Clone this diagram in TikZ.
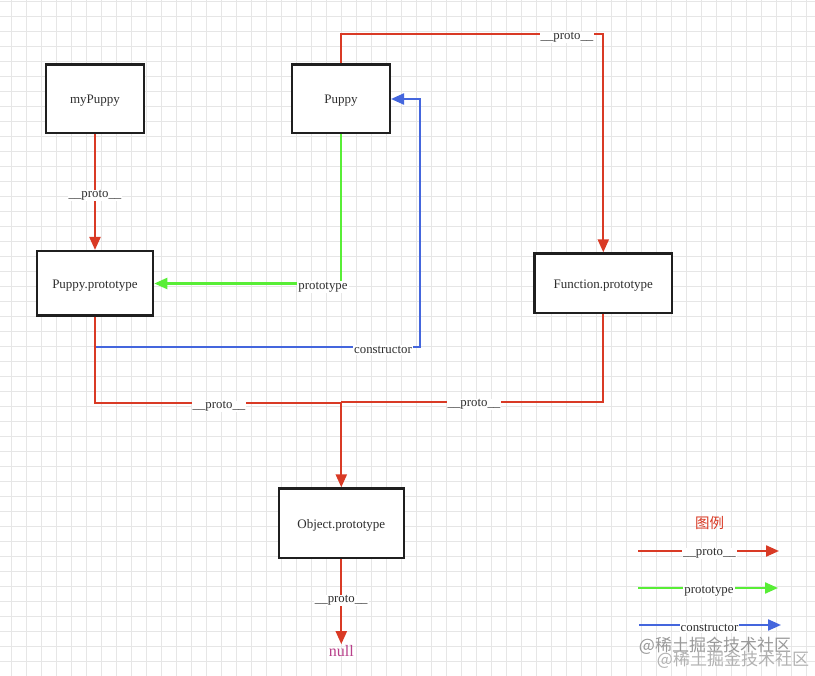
\documentclass[tikz,border=0pt]{standalone}
\usepackage{fontspec}
\setmainfont{Liberation Serif}
\newfontfamily\cjkfont{Noto Sans CJK SC}
\usetikzlibrary{arrows.meta}
\definecolor{cred}{HTML}{D93A25}
\definecolor{cgreen}{HTML}{58EE36}
\definecolor{cblue}{HTML}{4466DD}
\definecolor{ctext}{HTML}{2E2E2E}
\definecolor{cgrid}{HTML}{E6E6E6}
\definecolor{cnull}{HTML}{B8408A}
\tikzset{
  box/.style={draw=black!88, line width=2.4pt, fill=white, text=ctext, font=\fontsize{13}{15}\selectfont, inner sep=0pt, text height=10pt, text depth=0pt},
  lbl/.style={fill=white, text=ctext, font=\fontsize{12.8}{15}\selectfont, inner sep=1pt},
  conn/.style={line width=2.2pt, -{Triangle[length=13pt,width=11pt]}},
  redline/.style={conn, draw=cred},
  greenline/.style={conn, draw=cgreen},
  blueline/.style={conn, draw=cblue},
  redplain/.style={line width=2.2pt, draw=cred},
  gridline/.style={draw=cgrid, line width=0.6pt},
}
\begin{document}
\begin{tikzpicture}[x=1pt, y=-1pt]
\useasboundingbox (0,0) rectangle (815,676);
\fill[white] (0,0) rectangle (815,676);
% grid
\foreach \x in {11.7,26.7,...,815} \draw[gridline] (\x,0) -- (\x,676);
\foreach \y in {1.7,16.7,...,676} \draw[gridline] (0,\y) -- (815,\y);

% nodes
\node[box, minimum width=97.6pt, minimum height=68.3pt] (myPuppy) at (95,98.7) {myPuppy};
\node[box, minimum width=97.6pt, minimum height=68.3pt] (Puppy) at (341,98.7) {Puppy};
\node[box, minimum width=116.2pt, minimum height=64.3pt] (PP) at (95,283.3) {Puppy.prototype};
\node[box, minimum width=137.6pt, minimum height=59.3pt] (FP) at (603.3,283.2) {Function.prototype};
\node[box, minimum width=124.9pt, minimum height=69.3pt] (OP) at (341.3,523.2) {Object.prototype};
\node[text=cnull, font=\fontsize{16}{18}\selectfont, inner sep=1pt] (null) at (341.3,651) {null};

% myPuppy -> Puppy.prototype
\draw[redline] (myPuppy.south) -- (PP.north);
\node[lbl] (l1) at (95,195.5) {\_\_proto\_\_};

% Puppy -> Function.prototype
\coordinate (c1) at (341,34);
\coordinate (c2) at (603.3,34);
\draw[redline] (Puppy.north) -- (c1) -- (c2) -- (FP.north);
\node[lbl] (l2) at (567,37.5) {\_\_proto\_\_};

% Puppy -> Puppy.prototype (prototype)
\coordinate (g1) at (341,283.5);
\draw[greenline] (Puppy.south) -- (g1) -- (PP.east |- g1);
\node[lbl] (l3) at (323,287) {prototype};

% Puppy.prototype -> Puppy (constructor)
\coordinate (b0) at (95,347);
\coordinate (b1) at (420,347);
\coordinate (b2) at (420,99);
\draw[blueline] (b0) -- (b1) -- (b2) -- (Puppy.east |- b2);
\node[lbl] (l4) at (383,350) {constructor};

% Puppy.prototype -> Object.prototype
\coordinate (r1) at (95,402.7);
\coordinate (r2) at (341.3,402.7);
\draw[redline] (PP.south) -- (r1) -- (r2) -- (OP.north);
\node[lbl] (l5) at (219,406.5) {\_\_proto\_\_};

% Function.prototype -> Object.prototype
\coordinate (r3) at (603.3,401.7);
\coordinate (r4) at (341.3,401.7);
\draw[redplain] (FP.south) -- (r3) -- (r4);
\node[lbl] (l6) at (474,404.5) {\_\_proto\_\_};

% Object.prototype -> null
\draw[redline] (OP.south) -- (null.north);
\node[lbl] (l7) at (341.3,600.5) {\_\_proto\_\_};

% legend
\node[text=cred, font=\cjkfont\fontsize{14.5}{16}\selectfont, inner sep=0pt] (lg) at (709.5,523.5) {图例};
\coordinate (a1) at (638,551);
\coordinate (a2) at (779,551);
\draw[redline] (a1) -- (a2);
\node[lbl] (la) at (709.5,553.5) {\_\_proto\_\_};
\coordinate (g3) at (638,588);
\coordinate (g4) at (778,588);
\draw[greenline] (g3) -- (g4);
\node[lbl] (lb) at (709,591) {prototype};
\coordinate (b3) at (639,625);
\coordinate (b4) at (781,625);
\draw[blueline] (b3) -- (b4);
\node[lbl] (lc) at (709.5,628) {constructor};

% watermark
\node[text=black!40, font=\cjkfont\fontsize{17}{19}\selectfont, inner sep=0pt] (wm1) at (715,646) {@稀土掘金技术社区};
\node[text=black!30, font=\cjkfont\fontsize{17}{19}\selectfont, inner sep=0pt] (wm2) at (733,660) {@稀土掘金技术社区};
\end{tikzpicture}
\end{document}
